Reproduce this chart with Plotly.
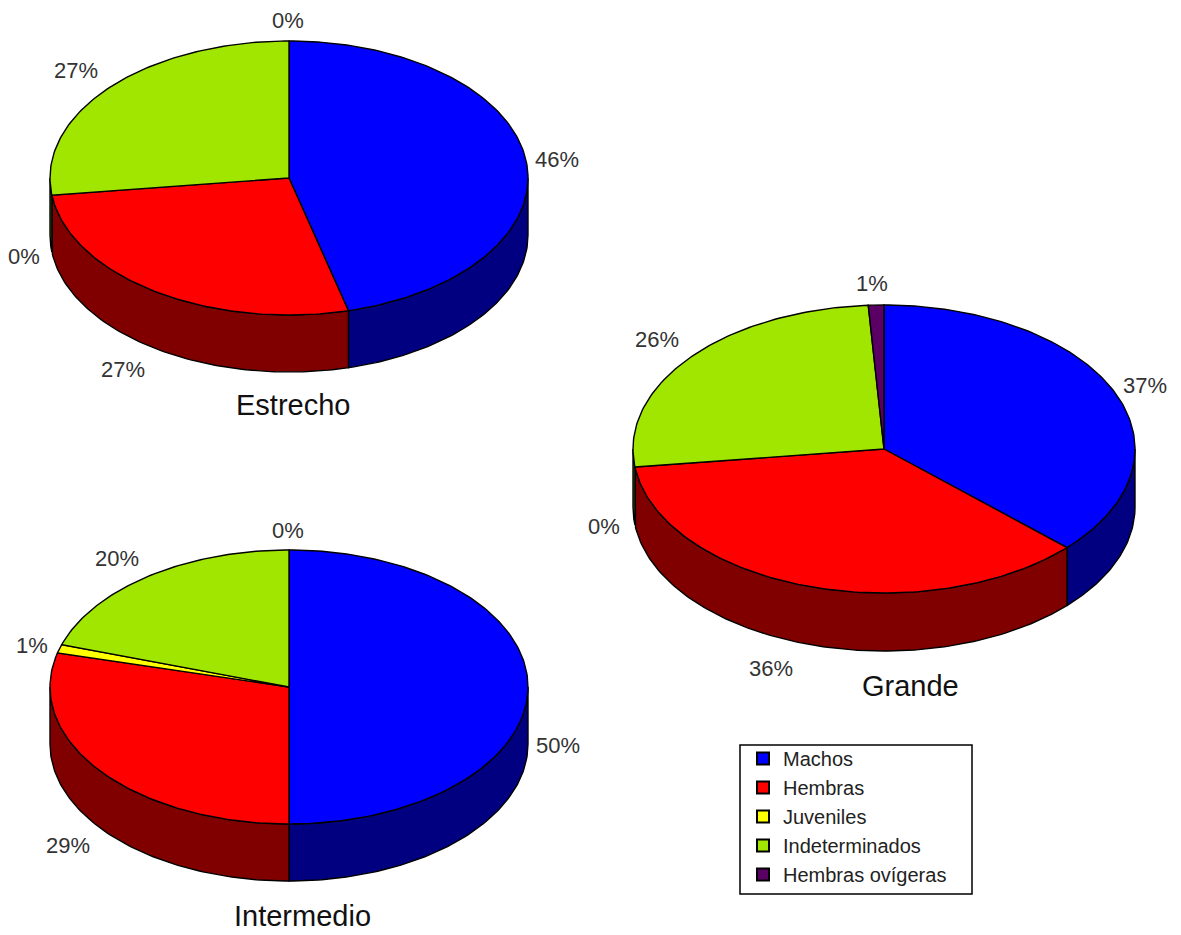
import numpy as np
import plotly.graph_objects as go

# Survey shares by stretch of the river, in percent
categories = ["Machos", "Hembras", "Juveniles", "Indeterminados", "Hembras ovígeras"]
estrecho = [46, 27, 0, 27, 0]
intermedio = [50, 29, 1, 20, 0]
grande = [37, 36, 0, 26, 1]

top_colors = ["#0000FF", "#FF0000", "#FFFF00", "#A0E600", "#5A0064"]
side_colors = ["#000080", "#800000", "#808000", "#507300", "#2D0032"]

# Layout of each pie: centre, radii, wall depth, caption and label anchors (pixels)
pies = [
    dict(name="Estrecho", values=estrecho, cx=289, cy=178, rx=239, ry=137, depth=57,
         caption=(293, 405),
         labels=[(557, 159), (123, 369), (24, 256), (76, 70), (288, 20)]),
    dict(name="Intermedio", values=intermedio, cx=289, cy=687, rx=239, ry=137, depth=57,
         caption=(302, 916),
         labels=[(558, 745), (68, 845), (32, 645), (117, 558), (288, 530)]),
    dict(name="Grande", values=grande, cx=884, cy=449, rx=251, ry=144, depth=58,
         caption=(910, 686),
         labels=[(1145, 385), (771, 668), (604, 526), (657, 339), (872, 283)]),
]

LABEL_FONT = dict(family="Liberation Sans", size=22, color="#333333")
CAPTION_FONT = dict(family="Liberation Sans", size=29, color="#111111")
OUTLINE = dict(color="black", width=1.4)


def rim(pie, angles, drop=0.0):
    """Points on the elliptical rim; angles run clockwise from 12 o'clock."""
    t = np.radians(angles)
    return pie["cx"] + pie["rx"] * np.sin(t), pie["cy"] - pie["ry"] * np.cos(t) + drop


def arc_angles(start, end):
    return np.linspace(start, end, max(2, int(abs(end - start)) + 2))


fig = go.Figure()
annotations = []

for pie in pies:
    bounds = np.concatenate([[0.0], np.cumsum(pie["values"]) * 3.6])

    # Outer wall: only the part of each slice on the near half of the rim is visible
    for i, cat in enumerate(categories):
        start, end = max(bounds[i], 90.0), min(bounds[i + 1], 270.0)
        if end <= start:
            continue
        a = arc_angles(start, end)
        x_top, y_top = rim(pie, a)
        x_low, y_low = rim(pie, a[::-1], pie["depth"])
        fig.add_trace(go.Scatter(
            x=np.r_[x_top, x_low, x_top[0]], y=np.r_[y_top, y_low, y_top[0]],
            mode="lines", fill="toself", fillcolor=side_colors[i], line=OUTLINE,
            name=cat, showlegend=False, hoverinfo="skip",
        ))

    # Top face
    for i, cat in enumerate(categories):
        start, end = bounds[i], bounds[i + 1]
        if end <= start:
            continue
        x_arc, y_arc = rim(pie, arc_angles(start, end))
        fig.add_trace(go.Scatter(
            x=np.r_[pie["cx"], x_arc, pie["cx"]], y=np.r_[pie["cy"], y_arc, pie["cy"]],
            mode="lines", fill="toself", fillcolor=top_colors[i], line=OUTLINE,
            name=cat, showlegend=False,
            text=f"{pie['name']}: {cat} {pie['values'][i]}%", hoverinfo="text",
        ))

    for value, (lx, ly) in zip(pie["values"], pie["labels"]):
        annotations.append(dict(x=lx, y=ly, text=f"{value}%", showarrow=False, font=LABEL_FONT))
    annotations.append(dict(x=pie["caption"][0], y=pie["caption"][1], text=pie["name"],
                            showarrow=False, font=CAPTION_FONT))

# Legend entries
for i, cat in enumerate(categories):
    fig.add_trace(go.Scatter(
        x=[None], y=[None], mode="markers", name=cat, legendgroup=cat,
        marker=dict(symbol="square", size=13, color=top_colors[i],
                    line=dict(color="black", width=1)),
    ))

fig.update_layout(
    width=1181, height=935, margin=dict(l=0, r=0, t=0, b=0),
    paper_bgcolor="white", plot_bgcolor="white",
    xaxis=dict(range=[0, 1181], visible=False, fixedrange=True),
    yaxis=dict(range=[935, 0], visible=False, fixedrange=True),
    annotations=annotations,
    # Frame around the legend, sized independently of its entries
    shapes=[dict(type="rect", xref="x", yref="y", x0=740, x1=972, y0=745, y1=894,
                 line=dict(color="black", width=1.5), fillcolor="white", layer="below")],
    legend=dict(
        x=743 / 1181, y=1 - 739 / 935, xanchor="left", yanchor="top",
        borderwidth=0, bgcolor="rgba(0,0,0,0)",
        font=dict(family="Liberation Sans", size=20, color="#222222"),
        tracegroupgap=2, traceorder="normal", itemsizing="constant",
    ),
)

fig.write_html("out.html")
